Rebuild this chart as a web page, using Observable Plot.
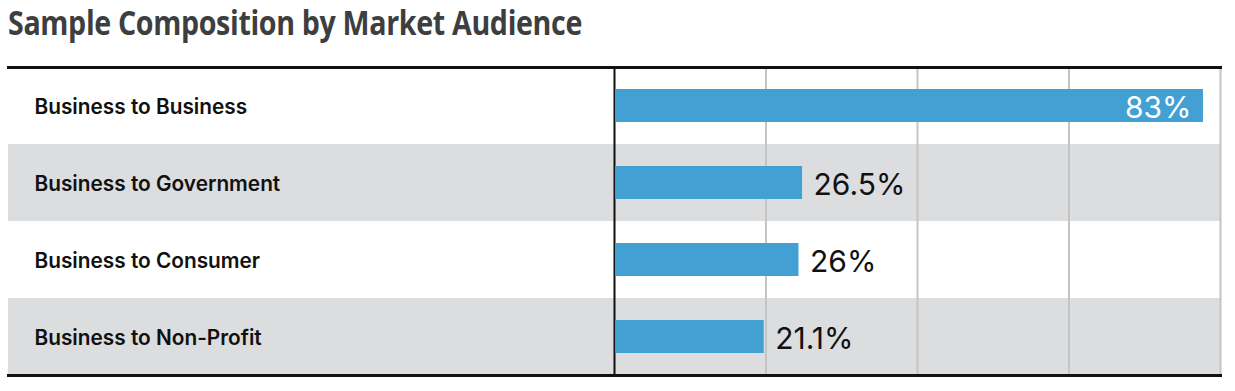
<!DOCTYPE html>
<html><head><meta charset="utf-8">
<script src="https://cdn.jsdelivr.net/npm/d3@7"></script>
<script src="https://cdn.jsdelivr.net/npm/@observablehq/plot@0.6"></script>
<style>
body{margin:0;background:#fff;}
#title{position:relative;height:52px;}
#title span{position:absolute;left:8px;top:0px;font:700 34px/44px "Open Sans";color:#3d3e40;white-space:nowrap;letter-spacing:-0.4px;transform-origin:0 0;}
#chart svg{display:block;}
</style></head><body>
<div id="title"><span id="tt">Sample Composition by Market Audience</span></div>
<div id="chart"></div>
<script>
const categories = ["Business to Business", "Business to Government", "Business to Consumer", "Business to Non-Profit"];
const values = [83, 26.5, 26, 21.1];
const valueLabels = ["83%", "26.5%", "26%", "21.1%"];
const xMax = 85.4;
const gridTicks = [21.35, 42.7, 64.05, 85.4];

const rows = categories.map((c, i) => ({cat: c, value: values[i], label: valueLabels[i], i, inside: values[i] > xMax / 2}));

const chart = Plot.plot({
  width: 1235,
  height: 339,
  marginTop: 15,
  marginBottom: 16,
  marginLeft: 8,
  marginRight: 15,
  x: {domain: [-xMax, xMax], axis: null},
  y: {domain: categories, axis: null, paddingInner: 0, paddingOuter: 0},
  marks: [
    Plot.barX(rows.filter(d => d.i % 2 === 1), {x1: -xMax, x2: xMax, y: "cat", fill: "#dcdddf"}),
    Plot.ruleX(gridTicks, {stroke: "#c4c4c4", strokeWidth: 2}),
    Plot.ruleX([0], {stroke: "#111", strokeWidth: 2}),
    Plot.barX(rows, {x1: 0, x2: "value", y: "cat", fill: "#42a0d3", insetTop: 22, insetBottom: 22, insetLeft: 1}),
    Plot.text(rows, {x: -xMax, y: "cat", text: "cat", dx: 26, dy: 1, textAnchor: "start", fontSize: 20.8, fontWeight: 600, fill: "#111", fontFamily: "Inter"}),
    Plot.text(rows.filter(d => !d.inside), {x: "value", y: "cat", text: "label", dx: 11, dy: 2, textAnchor: "start", fontSize: 30, fill: "#111", fontFamily: "Inter"}),
    Plot.text(rows.filter(d => d.inside), {x: "value", y: "cat", text: "label", dx: -12, dy: 2, textAnchor: "end", fontSize: 30, fill: "white", fontFamily: "Inter"}),
    Plot.frame({anchor: "top", stroke: "#111", strokeWidth: 3}),
    Plot.frame({anchor: "bottom", stroke: "#111", strokeWidth: 3})
  ]
});
document.getElementById("chart").append(chart);
const tt = document.getElementById("tt");
const w = tt.getBoundingClientRect().width;
tt.style.transform = `scaleX(${574 / w})`;
</script>
</body></html>
